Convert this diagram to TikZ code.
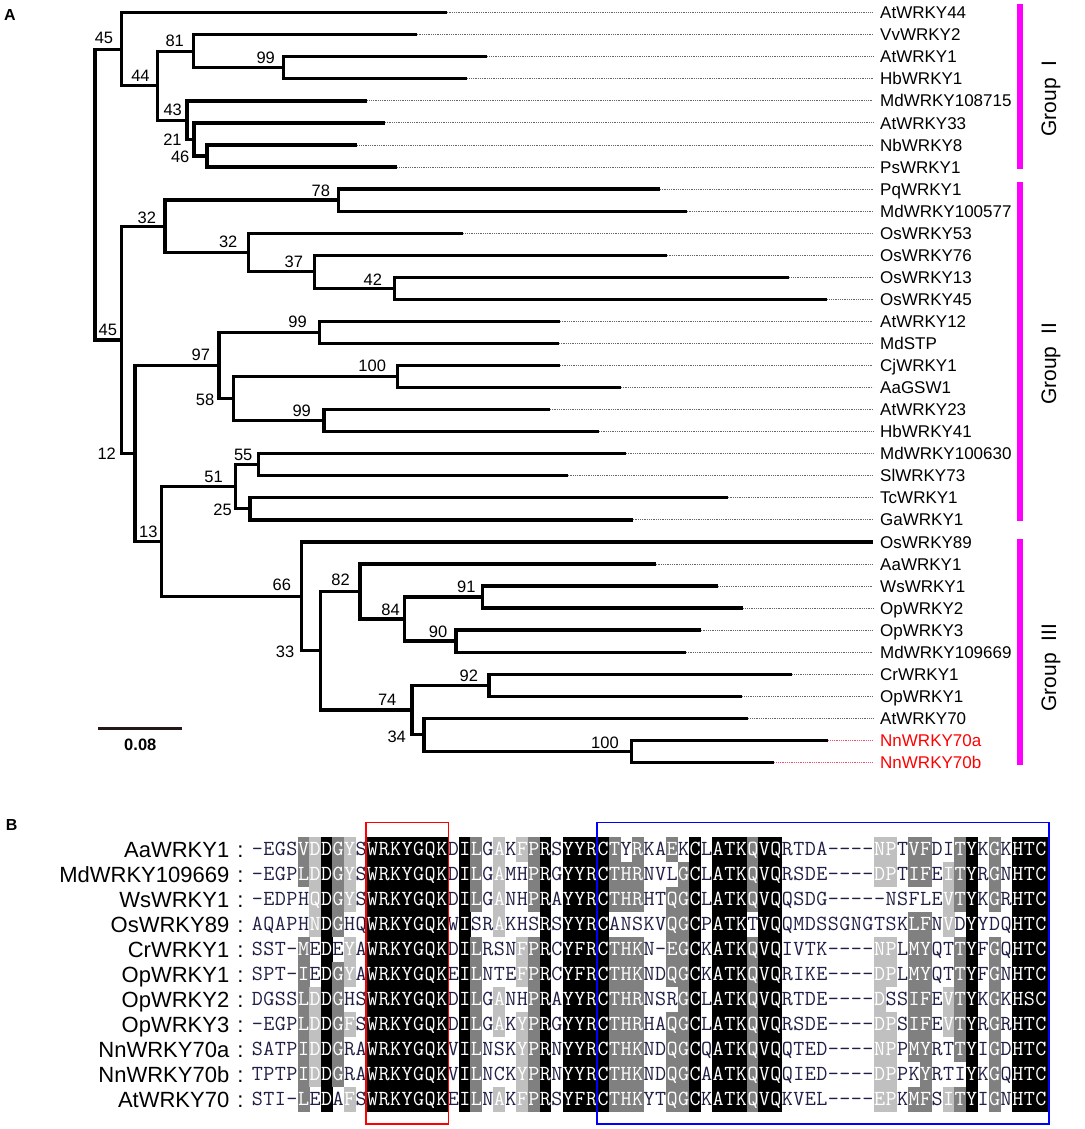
\documentclass[tikz,border=0pt]{standalone}
\usepackage{fontspec}
\setmainfont{Liberation Sans}
\definecolor{grpmag}{HTML}{FF00FF}
\definecolor{shdark}{HTML}{808080}
\definecolor{shlight}{HTML}{C0C0C0}
\definecolor{resink}{HTML}{1E1E46}
\definecolor{scalebar}{HTML}{231815}
\definecolor{dotgrey}{HTML}{666666}
\definecolor{tipred}{HTML}{FF0000}
\definecolor{dotred}{HTML}{F0506E}
\tikzset{
  branch/.style={line width=3.3pt, line join=miter},
  dotline/.style={line width=0.9pt, dash pattern=on 1pt off 0.8pt},
  leaf/.style={anchor=base west, inner sep=0pt, font=\fontsize{17pt}{20pt}\selectfont},
  boot/.style={inner sep=0pt, font=\fontsize{16.5pt}{19pt}\selectfont},
  grp/.style={rotate=90, anchor=base west, inner sep=0pt, font=\fontsize{21pt}{24pt}\selectfont},
  grpbar/.style={draw=grpmag, line width=5.3pt},
  panel/.style={inner sep=0pt, font=\fontsize{16pt}{19pt}\selectfont\bfseries},
  seqname/.style={anchor=base east, inner sep=0pt, font=\fontsize{22pt}{25pt}\selectfont},
  seqcolon/.style={anchor=base, inner sep=0pt, font=\fontsize{22pt}{25pt}\selectfont},
  res/.style={anchor=base, inner sep=0pt, font=\ttfamily\fontsize{21.5pt}{24pt}\selectfont},
  resk/.style={res, text=white}, resd/.style={res, text=white},
  resl/.style={res, text=white}, resw/.style={res, text=resink},
  cellk/.style={fill=black}, celld/.style={fill=shdark},
  celll/.style={fill=shlight}, cellw/.style={},
}
% one elbow of the tree: parent, upper child, lower child
\newcommand{\clade}[3]{\draw[branch] (#2) -- (#2 -| #1) -- (#3 -| #1) -- (#3);}
% one alignment row: index, name, residues, shading (k d l w)
\newcount\alncol
\newcommand{\alnrow}[4]{%
  \pgfmathsetmacro{\rowy}{849.2+25*#1}%
  \node[seqname] (n#1) at (229.5,\rowy+7.9) {#2};
  \node[seqcolon] (c#1) at (240.5,\rowy+7.9) {:};
  \global\alncol=0
  \alnstep#3\relax#4\relax}
\def\alnstep#1#2\relax#3#4\relax{%
  \path[cell#3] ({251.7+11.52*\the\alncol-0.2},\rowy-12.5) rectangle ({251.7+11.52*(\the\alncol+1)+0.2},\rowy+12.5);
  \node[res#3] at ({251.7+11.52*(\the\alncol+0.5)},\rowy+6) {#1};
  \global\advance\alncol by 1
  \ifx\relax#2\relax\else\alnstep#2\relax#4\relax\fi}

\begin{document}
\begin{tikzpicture}[x=1pt,y=-1pt]
  \useasboundingbox (0,0) rectangle (1084,1129);

  %%%%% TREE %%%%%
  \node[panel] (pA) at (10,15) {A};

  \foreach \nm/\tip/\clr/\dclr [count=\i from 0] in {
    AtWRKY44/446.7/black/dotgrey, VvWRKY2/416.7/black/dotgrey, AtWRKY1/487.3/black/dotgrey,
    HbWRKY1/467.3/black/dotgrey, MdWRKY108715/367.3/black/dotgrey, AtWRKY33/385/black/dotgrey,
    NbWRKY8/357.3/black/dotgrey, PsWRKY1/397.3/black/dotgrey, PqWRKY1/660/black/dotgrey,
    MdWRKY100577/686.7/black/dotgrey, OsWRKY53/463.3/black/dotgrey, OsWRKY76/666.7/black/dotgrey,
    OsWRKY13/789.3/black/dotgrey, OsWRKY45/827.3/black/dotgrey, AtWRKY12/560/black/dotgrey,
    MdSTP/559/black/dotgrey, CjWRKY1/560/black/dotgrey, AaGSW1/621/black/dotgrey,
    AtWRKY23/550/black/dotgrey, HbWRKY41/599/black/dotgrey, MdWRKY100630/626/black/dotgrey,
    SlWRKY73/567.7/black/dotgrey, TcWRKY1/727.7/black/dotgrey, GaWRKY1/632.7/black/dotgrey,
    OsWRKY89/873/black/dotgrey, AaWRKY1/655.7/black/dotgrey, WsWRKY1/718.3/black/dotgrey,
    OpWRKY2/743.3/black/dotgrey, OpWRKY3/700.7/black/dotgrey, MdWRKY109669/686/black/dotgrey,
    CrWRKY1/792.3/black/dotgrey, OpWRKY1/742.3/black/dotgrey, AtWRKY70/748.3/black/dotgrey,
    NnWRKY70a/828.3/tipred/dotred, NnWRKY70b/774.3/tipred/dotred}{
    \coordinate (t\i) at (\tip,{12.7+22.05*\i});
    \coordinate (d\i) at (873,{12.7+22.05*\i});
    \node[leaf, text=\clr] (l\i) at (880,{18.8+22.05*\i}) {\nm};
    \draw[dotline, draw=\dclr] (t\i) -- (d\i);
  }

  \coordinate (root) at (95,194.57);
  \coordinate (nI) at (121.7,49.22);
  \coordinate (n44) at (157.3,85.74);
  \coordinate (n81) at (193.3,51.29);
  \coordinate (n99a) at (283.3,67.83);
  \coordinate (n43) at (187,120.19);
  \coordinate (n21) at (194,139.49);
  \coordinate (n46) at (207,156.03);
  \coordinate (nB) at (121.7,339.92);
  \coordinate (n32a) at (165,226.31);
  \coordinate (n78) at (338.7,200.13);
  \coordinate (n32b) at (248.3,252.49);
  \coordinate (n37) at (314.7,271.79);
  \coordinate (n42) at (394.7,288.33);
  \coordinate (n12) at (135,453.53);
  \coordinate (n97) at (219,365.5);
  \coordinate (n99b) at (319.3,332.43);
  \coordinate (n58) at (233.3,398.58);
  \coordinate (n100a) at (397.3,376.53);
  \coordinate (n99c) at (324,420.63);
  \coordinate (n13) at (161.7,541.56);
  \coordinate (n51) at (235.3,486.78);
  \coordinate (n55) at (258.3,464.73);
  \coordinate (n25) at (250,508.83);
  \coordinate (n66) at (301.7,596.34);
  \coordinate (n33) at (320.7,650.77);
  \coordinate (n82) at (360,591.51);
  \coordinate (n84) at (404.7,619.08);
  \coordinate (n91) at (482.3,597.03);
  \coordinate (n90) at (456,641.13);
  \coordinate (n74) at (412,710.03);
  \coordinate (n92) at (489,685.23);
  \coordinate (n34) at (424,734.84);
  \coordinate (n100b) at (631.3,751.38);

  % group I
  \clade{root}{nI}{nB}
  \clade{nI}{t0}{n44}
  \clade{n44}{n81}{n43}
  \clade{n81}{t1}{n99a}
  \clade{n99a}{t2}{t3}
  \clade{n43}{t4}{n21}
  \clade{n21}{t5}{n46}
  \clade{n46}{t6}{t7}
  % group II
  \clade{nB}{n32a}{n12}
  \clade{n32a}{n78}{n32b}
  \clade{n78}{t8}{t9}
  \clade{n32b}{t10}{n37}
  \clade{n37}{t11}{n42}
  \clade{n42}{t12}{t13}
  \clade{n12}{n97}{n13}
  \clade{n97}{n99b}{n58}
  \clade{n99b}{t14}{t15}
  \clade{n58}{n100a}{n99c}
  \clade{n100a}{t16}{t17}
  \clade{n99c}{t18}{t19}
  \clade{n13}{n51}{n66}
  \clade{n51}{n55}{n25}
  \clade{n55}{t20}{t21}
  \clade{n25}{t22}{t23}
  % group III
  \clade{n66}{t24}{n33}
  \clade{n33}{n82}{n74}
  \clade{n82}{t25}{n84}
  \clade{n84}{n91}{n90}
  \clade{n91}{t26}{t27}
  \clade{n90}{t28}{t29}
  \clade{n74}{n92}{n34}
  \clade{n92}{t30}{t31}
  \clade{n34}{t32}{n100b}
  \clade{n100b}{t33}{t34}

  \foreach \bn/\bx/\by/\bv in {b45a/104/37.5/45, b44/140.5/76/44, b81/174.7/41/81,
    b99a/265.7/57.8/99, b43/172.7/109.5/43, b21/172.5/139.7/21, b46/180.2/157/46,
    b78/320.8/190.5/78, b32a/146.8/217.5/32, b32b/228.2/242.2/32, b37/293.8/262.2/37,
    b42/372.8/279.5/42, b45b/107.8/329.7/45, b99b/297.5/322.2/99, b97/200.8/355/97,
    b100a/372.2/365.8/100, b58/205/400/58, b99c/301.7/410.5/99, b12/106.7/453.7/12,
    b55/243.2/454.7/55, b51/213.5/477/51, b25/222.5/510.3/25, b13/148.3/531.7/13,
    b66/281.8/585/66, b33/285/651.7/33, b82/340.5/580/82, b84/390.5/609.7/84,
    b91/466.3/587/91, b90/438/631.7/90, b92/468.8/676/92, b74/387.2/700/74,
    b34/396.7/737/34, b100b/605/743.3/100}
    \node[boot] (\bn) at (\bx,\by) {\bv};

  % group bars
  \draw[grpbar] (1020,4) -- (1020,169.3);
  \draw[grpbar] (1020,181.7) -- (1020,521);
  \draw[grpbar] (1020,539) -- (1020,765);
  \node[grp] (gI) at (1056,136.7) {Group\ \ I};
  \node[grp] (gII) at (1056,405) {Group\ \ II};
  \node[grp] (gIII) at (1056,711.7) {Group\ \ III};

  % scale bar
  \draw[draw=scalebar, line width=3.5pt] (98.3,728.7) -- (181.7,728.7);
  \node[boot, font=\fontsize{16.5pt}{19pt}\selectfont\bfseries] (sc) at (140.3,744.5) {0.08};

  %%%%% ALIGNMENT %%%%%
  \node[panel] (pB) at (11.7,825) {B};

  \alnrow{0}{AaWRKY1}{-EGSVDDGYS WRKYGQK DILGAKFPRSYYRC TYRKAEKC LATKQVQ RTDA ---- NPTVFDITYKGKHTC}
    {wwwwdlkdlw kkkkkkkwkd wlwldkwkkk kdwdwwdwkw kkkdkkwwww wwwwllwddw wdkwdwkkk}
  \alnrow{1}{MdWRKY109669}{-EGPLDDGYS WRKYGQK DILGAMHPRGYYRC THRNVLGC LATKQVQ RSDE ---- DPTIFEITYRGNHTC}
    {wwwwdlkdlw kkkkkkkwkd wlwwdkwkkk kdddwwwdkw kkkdkkwwww wwwwllwddw ldkwdwkkk}
  \alnrow{2}{WsWRKY1}{-EDPHQDGYS WRKYGQK DILGANHPRAYYRC THRHTQGC LATKQVQ QSDG ----- NSFLEVTYKGRHTC}
    {wwwwwlkdlw kkkkkkkwkd wlwwdkwkkk kdddwwddkw kkkdkkwwww wwwwwwwwww ldkwdwkkk}
  \alnrow{3}{OsWRKY89}{AQAPHNDGHQ WRKYGQK WISRAKHSRSYYRC ANSKVQGC PATKTVQ QMDSSGNGTSK LFNVDYYDQHTC}
    {wwwwwlkdww kkkkkkkwkw wlwwwkwkkk kwwwwwddkw kkkwkkwwww wwwwwwwddw lwkwwwkkk}
  \alnrow{4}{CrWRKY1}{SST-MEDEYA WRKYGQK DILRSNFPRCYFRC THKN-EGC KATKQVQ IVTK ---- NPLMYQTTYFGQHTC}
    {wwwwdwkwlw kkkkkkkwkd wwwldkwkkk kdddwwddkw kkkdkkwwww wwwwllwddw wdkwdwkkk}
  \alnrow{5}{OpWRKY1}{SPT-IEDGYA WRKYGQK EILNTEFPRCYFRC THKNDQGC KATKQVQ RIKE ---- DPLMYQTTYFGNHTC}
    {wwwwdwkdlw kkkkkkkwkd wwwldkwkkk kdddwwddkw kkkdkkwwww wwwwllwddw wdkwdwkkk}
  \alnrow{6}{OpWRKY2}{DGSSLDDGHS WRKYGQK DILGANHPRAYYRC THRNSRGC LATKQVQ RTDE ---- DSSIFEVTYKGKHSC}
    {wwwwdlkdww kkkkkkkwkd wlwwdkwkkk kdddwwwdkw kkkdkkwwww wwwwlwwddw ldkwdwkkk}
  \alnrow{7}{OpWRKY3}{-EGPLDDGFS WRKYGQK DILGAKYPRGYYRC THRHAQGC LATKQVQ RSDE ---- DPSIFEVTYRGRHTC}
    {wwwwdlkdlw kkkkkkkwkd wlwldkwkkk kdddwwddkw kkkdkkwwww wwwwllwddw ldkwdwkkk}
  \alnrow{8}{NnWRKY70a}{SATPIDDGRA WRKYGQK VILNSKYPRNYYRC THKNDQGC QATKQVQ QTED ---- NPPMYRTTYIGDHTC}
    {wwwwdlkdww kkkkkkkwkd wwwldkwkkk kdddwwddkw kkkdkkwwww wwwwllwddw wdkwdwkkk}
  \alnrow{9}{NnWRKY70b}{TPTPIDDGRA WRKYGQK VILNCKYPRNYYRC THKNDQGC AATKQVQ QIED ---- DPPKYRTIYKGQHTC}
    {wwwwdlkdww kkkkkkkwkd wwwldkwkkk kdddwwddkw kkkdkkwwww wwwwllwwdw wwkwdwkkk}
  \alnrow{10}{AtWRKY70}{STI-LEDAFS WRKYGQK EILNAKFPRSYFRC THKYTQGC KATKQVQ KVEL ---- EPKMFSITYIGNHTC}
    {wwwwdwkwlw kkkkkkkwkd wlwldkwkkk kdddwwddkw kkkdkkwwww wwwwllwddw ldkwdwkkk}

  \fill[black] (1046.6,836.7) rectangle (1048.6,1111.7);
  \draw[red, line width=1.6pt] (365.7,822.3) rectangle (448.3,1124);
  \draw[blue, line width=1.6pt] (597,822.3) rectangle (1049,1124);
\end{tikzpicture}
\end{document}
